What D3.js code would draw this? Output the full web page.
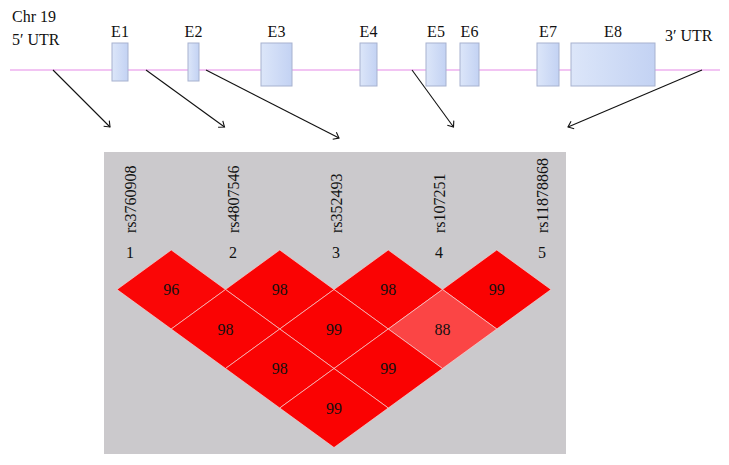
<!DOCTYPE html>
<html>
<head>
<meta charset="utf-8">
<script src="https://cdn.jsdelivr.net/npm/d3@7"></script>
<style>
  body { margin: 0; background: #fff; }
  text { font-family: "Liberation Serif", "Times New Roman", serif; fill: #111; }
</style>
</head>
<body>
<div id="chart"></div>
<script>
// gene model (arbitrary genomic units along chromosome 19)
const exonNames = ["E1", "E2", "E3", "E4", "E5", "E6", "E7", "E8"];
const exonStart = [102, 178, 251, 350, 416, 450, 527, 561];
const exonEnd = [118, 189, 282, 367, 436, 469, 549, 645];
const exonShort = [true, true, false, false, false, false, false, false]; // partly untranslated exons drawn shorter

// SNPs: position on the gene and pairwise LD (D') values
const snps = ["rs3760908", "rs4807546", "rs352493", "rs107251", "rs11878868"];
const snpPos = [43, 136, 196, 402, 692];
const ldPairs = [
  [0, 1, 96], [1, 2, 98], [2, 3, 98], [3, 4, 99],
  [0, 2, 98], [1, 3, 99], [2, 4, 88],
  [0, 3, 98], [1, 4, 99],
  [0, 4, 99],
];

const width = 729, height = 465;
const fontSize = "16px";

const svg = d3.select("#chart").append("svg")
  .attr("width", width)
  .attr("height", height);

// gradient for exon boxes
const defs = svg.append("defs");
const grad = defs.append("linearGradient").attr("id", "exonFill");
grad.append("stop").attr("offset", "0%").attr("stop-color", "#dce6f9");
grad.append("stop").attr("offset", "100%").attr("stop-color", "#c3d2f3");

// open arrow head
defs.append("marker")
  .attr("id", "arrow")
  .attr("viewBox", "-6 -6 12 12")
  .attr("refX", 0)
  .attr("refY", 0)
  .attr("markerWidth", 12)
  .attr("markerHeight", 12)
  .attr("markerUnits", "userSpaceOnUse")
  .attr("orient", "auto")
  .append("path")
  .attr("d", "M-5,-4L0,0L-5,4")
  .attr("fill", "none")
  .attr("stroke", "#111")
  .attr("stroke-width", 1.1);

// ---- gene track ----
const geneY = 70;
const gx = d3.scaleLinear().domain([0, 710]).range([10, 720]);

svg.append("line")
  .attr("x1", gx(0)).attr("x2", gx(710))
  .attr("y1", geneY).attr("y2", geneY)
  .attr("stroke", "#e68ae8")
  .attr("stroke-width", 1.2);

const exons = exonNames.map((n, i) => ({ name: n, start: exonStart[i], end: exonEnd[i], short: exonShort[i] }));

svg.selectAll("rect.exon")
  .data(exons)
  .enter()
  .append("rect")
  .attr("class", "exon")
  .attr("x", d => gx(d.start))
  .attr("width", d => gx(d.end) - gx(d.start))
  .attr("y", 43)
  .attr("height", d => d.short ? 38 : 43)
  .attr("fill", "url(#exonFill)")
  .attr("stroke", "#a7b2cf")
  .attr("stroke-width", 1);

svg.selectAll("text.exon-label")
  .data(exons)
  .enter()
  .append("text")
  .attr("class", "exon-label")
  .attr("x", d => (gx(d.start) + gx(d.end)) / 2)
  .attr("y", 37)
  .attr("text-anchor", "middle")
  .style("font-size", fontSize)
  .text(d => d.name);

svg.append("text").attr("x", 12).attr("y", 22).style("font-size", fontSize).text("Chr 19");
svg.append("text").attr("x", 12).attr("y", 45).style("font-size", fontSize).text("5\u2032 UTR");
svg.append("text").attr("x", 665).attr("y", 41).style("font-size", fontSize).text("3\u2032 UTR");

// ---- LD plot ----
const panel = { x: 104, y: 152, w: 462, h: 302 };
svg.append("rect")
  .attr("x", panel.x).attr("y", panel.y)
  .attr("width", panel.w).attr("height", panel.h)
  .attr("fill", "#cbc9cc");

// marker positions for the diamond grid and for the labels
const mx = d3.scaleLinear().domain([0, snps.length - 1]).range([117, 551]);
const dy = d3.scaleLinear().domain([0, snps.length - 1]).range([250, 408]);
const lx = d3.scaleLinear().domain([0, snps.length - 1]).range([130, 542]);
const tipX = d3.scaleLinear().domain([0, snps.length - 1]).range([110, 568]);

const halfW = (mx(1) - mx(0)) / 2;
const halfH = dy(1) - dy(0);

const color = d3.scaleLinear().domain([88, 96, 100]).range(["#fb4545", "#fa0606", "#fa0000"]).clamp(true);

// arrows from SNP location on the gene to the LD plot
svg.selectAll("line.snp-arrow")
  .data(snps)
  .enter()
  .append("line")
  .attr("class", "snp-arrow")
  .attr("x1", (d, i) => gx(snpPos[i]))
  .attr("y1", geneY)
  .attr("x2", (d, i) => tipX(i))
  .attr("y2", (d, i) => i === 2 ? 138 : 127)
  .attr("stroke", "#111")
  .attr("stroke-width", 1.1)
  .attr("marker-end", "url(#arrow)");

const cells = svg.selectAll("g.cell")
  .data(ldPairs)
  .enter()
  .append("g")
  .attr("class", "cell")
  .attr("transform", d => `translate(${(mx(d[0]) + mx(d[1])) / 2},${dy(d[1] - d[0])})`);

cells.append("path")
  .attr("d", `M0,${-halfH}L${halfW},0L0,${halfH}L${-halfW},0Z`)
  .attr("fill", d => color(d[2]))
  .attr("stroke", "#f7dada")
  .attr("stroke-opacity", 0.8)
  .attr("stroke-width", 0.8);

cells.append("text")
  .attr("text-anchor", "middle")
  .attr("y", 5.5)
  .style("font-size", fontSize)
  .text(d => d[2]);

// SNP names and numbers
svg.selectAll("text.snp-name")
  .data(snps)
  .enter()
  .append("text")
  .attr("class", "snp-name")
  .attr("transform", (d, i) => `translate(${lx(i) + 5.5},233) rotate(-90)`)
  .style("font-size", fontSize)
  .text(d => d);

svg.selectAll("text.snp-num")
  .data(snps)
  .enter()
  .append("text")
  .attr("class", "snp-num")
  .attr("x", (d, i) => lx(i))
  .attr("y", 258)
  .attr("text-anchor", "middle")
  .style("font-size", fontSize)
  .text((d, i) => i + 1);
</script>
</body>
</html>
